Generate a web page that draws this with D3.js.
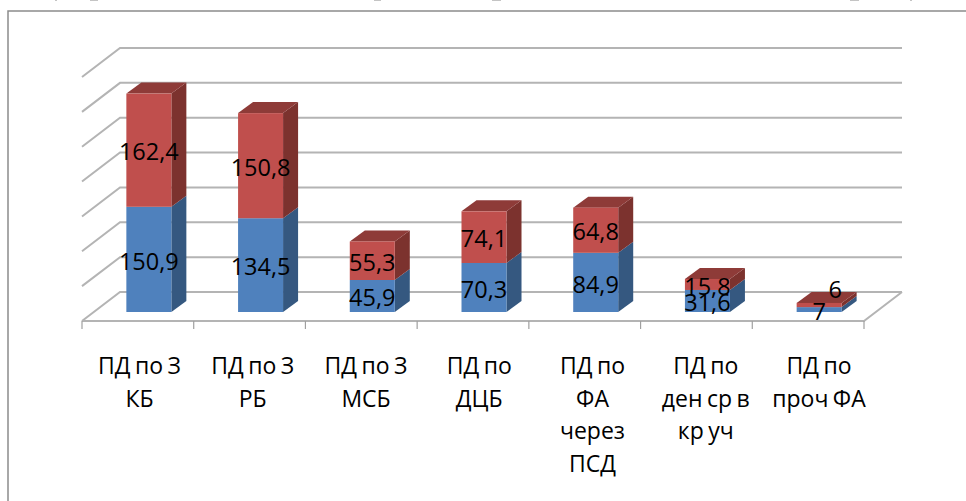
<!DOCTYPE html>
<html>
<head>
<meta charset="utf-8">
<script src="https://cdn.jsdelivr.net/npm/d3@7"></script>
<style>
html, body { margin: 0; background: #fff; }
svg { display: block; }
text { font-family: "Open Sans", sans-serif; fill: #000; }
</style>
</head>
<body>
<svg id="chart" width="966" height="501"></svg>
<script>
const categories = ["ПД по З КБ", "ПД по З РБ", "ПД по З МСБ", "ПД по ДЦБ", "ПД по ФА через ПСД", "ПД по ден ср в кр уч", "ПД по проч ФА"]
const categoryLines = [
    ["ПД по З", "КБ"],
    ["ПД по З", "РБ"],
    ["ПД по З", "МСБ"],
    ["ПД по", "ДЦБ"],
    ["ПД по", "ФА", "через", "ПСД"],
    ["ПД по", "ден ср в", "кр уч"],
    ["ПД по", "проч ФА"],
]
const blueValues = [150.9, 134.5, 45.9, 70.3, 84.9, 31.6, 7]
const redValues = [162.4, 150.8, 55.3, 74.1, 64.8, 15.8, 6]
const gridTicks = [0, 50, 100, 150, 200, 250, 300, 350]

const wallDx = 38
const wallDy = 29
const barDepthX = 15
const barDepthY = 11
const barOffsetX = 11
const barOffsetY = 9
const barWidth = 45

const gridColor = "#b4b4b4"
const blue = {front: "#4f81bd", side: "#345880", top: "#41699a"}
const red = {front: "#c0504d", side: "#7b302e", top: "#8e3a38"}

const svg = d3.select("#chart")

let defs = svg.append("defs")
defs.append("filter").attr("id", "soft")
    .append("feGaussianBlur").attr("stdDeviation", 0.6)

let x = d3.scaleBand().domain(d3.range(categories.length)).range([82, 864])
let y = d3.scaleLinear().domain([0, 350]).range([321, 77])
// The labels sit on a slightly wider spacing than the bars.
let labelX = d3.scalePoint().domain(d3.range(categories.length)).range([139.5, 819])

// Bottoms of the text line cut off by the top of the picture
svg.append("g")
    .attr("fill", "#c4c4c4")
    .selectAll("rect")
    .data([[55, 2], [90, 8], [374, 7], [492, 9], [850, 9], [910, 2]])
    .join("rect")
        .attr("x", d => d[0])
        .attr("y", 0)
        .attr("width", d => d[1])
        .attr("height", 1)

// Frame around the chart, cut by the window on the right and bottom
svg.append("path")
    .attr("d", "M 8,501 V 11 H 966")
    .attr("fill", "none")
    .attr("stroke", "#8c8c8c")
    .attr("stroke-width", 1.5)

// Walls and floor
let grid = svg.append("g").attr("filter", "url(#soft)")
    .attr("stroke", gridColor)
    .attr("stroke-width", 2)
    .attr("fill", "none")
grid.selectAll("path.wall")
    .data(gridTicks)
    .join("path")
        .classed("wall", true)
        .attr("d", d => `M ${x.range()[0]},${y(d)} L ${x.range()[0] + wallDx},${y(d) - wallDy} H ${x.range()[1] + wallDx}`)
grid.append("path")
    .attr("d", `M ${x.range()[0]},${y(0)} H ${x.range()[1]} L ${x.range()[1] + wallDx},${y(0) - wallDy}`)

// Ticks under the floor edge
let tickValues = d3.range(categories.length).map(i => x(i)).concat([x.range()[1]])
svg.append("g")
    .attr("stroke", "#a0a0a0")
    .attr("stroke-width", 1.2)
    .selectAll("line")
    .data(tickValues)
    .join("line")
        .attr("x1", d => d)
        .attr("x2", d => d)
        .attr("y1", y(0))
        .attr("y2", y(0) + 8)

// Stacked bars
let stacks = categories.map((name, i) => [
    {i, value: blueValues[i], from: 0, to: blueValues[i], color: blue},
    {i, value: redValues[i], from: blueValues[i], to: blueValues[i] + redValues[i], color: red},
])
let segments = stacks.flat()

function barLeft(d) {
    return x(d.i) + (x.bandwidth() - barWidth) / 2 + barOffsetX
}
function barY(v) {
    return y(v) - barOffsetY
}
function poly(points) {
    return points.map(p => p.join(",")).join(" ")
}

let bars = svg.append("g").attr("filter", "url(#soft)")
    .selectAll("g")
    .data(segments)
    .join("g")
bars.append("polygon")
    .attr("fill", d => d.color.side)
    .attr("points", d => {
        let r = barLeft(d) + barWidth
        return poly([[r, barY(d.to)], [r + barDepthX, barY(d.to) - barDepthY], [r + barDepthX, barY(d.from) - barDepthY], [r, barY(d.from)]])
    })
bars.filter(d => d.color === red)
    .append("polygon")
    .attr("fill", d => d.color.top)
    .attr("points", d => {
        let l = barLeft(d)
        return poly([[l, barY(d.to)], [l + barDepthX, barY(d.to) - barDepthY], [l + barWidth + barDepthX, barY(d.to) - barDepthY], [l + barWidth, barY(d.to)]])
    })
bars.append("rect")
    .attr("fill", d => d.color.front)
    .attr("x", barLeft)
    .attr("y", d => barY(d.to))
    .attr("width", barWidth)
    .attr("height", d => barY(d.from) - barY(d.to))

// Value labels. The "6" was dragged off its thin segment in the original.
let labelNudge = new Map([["1,6", [16, -17]]])
svg.append("g")
    .selectAll("text")
    .data(segments)
    .join("text")
        .attr("text-anchor", "middle")
        .attr("dy", "0.35em")
        .style("font-size", "23.5px")
        .attr("x", d => {
            let nudge = labelNudge.get(`${d.color === red ? 1 : 0},${d.i}`) || [0, 0]
            return barLeft(d) + barWidth / 2 + nudge[0]
        })
        .attr("y", d => {
            let nudge = labelNudge.get(`${d.color === red ? 1 : 0},${d.i}`) || [0, 0]
            return (barY(d.from) + barY(d.to)) / 2 + 2 + nudge[1]
        })
        .text(d => String(d.value).replace(".", ","))

// Category labels
let labels = svg.append("g")
    .selectAll("text")
    .data(categoryLines)
    .join("text")
        .attr("text-anchor", "middle")
        .style("font-size", "23px")
        .style("word-spacing", "-1.5px")
labels.selectAll("tspan")
    .data((d, i) => d.map(line => ({line, i})))
    .join("tspan")
        .attr("x", d => labelX(d.i))
        .attr("y", (d, j) => 374 + j * 32.5)
        .text(d => d.line)
</script>
</body>
</html>
